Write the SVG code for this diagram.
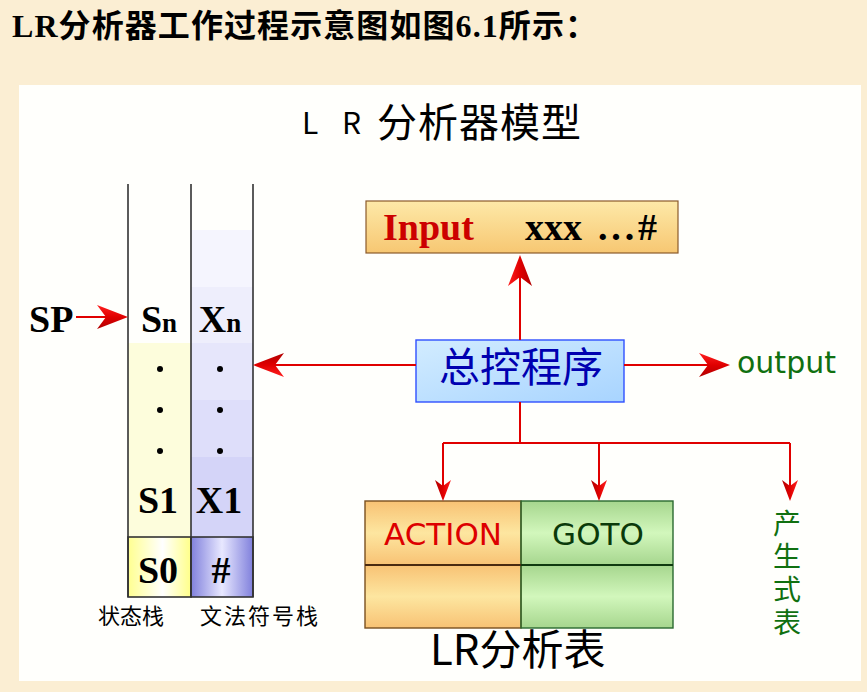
<svg xmlns="http://www.w3.org/2000/svg" width="867" height="692" viewBox="0 0 867 692">
<style>
.tb{font-family:"Liberation Serif","Noto Sans CJK SC",serif;font-weight:bold;fill:#000}
.cjk{font-family:"Noto Sans CJK SC","DejaVu Sans",sans-serif}
.sans{font-family:"DejaVu Sans","Noto Sans CJK SC",sans-serif}
.conn{stroke:#e00000;stroke-width:2;fill:none}
.stk{stroke:#333;stroke-width:1.6;fill:none}
</style>
<defs>
<marker id="ah" markerUnits="userSpaceOnUse" viewBox="-32 -13 34 26" markerWidth="34" markerHeight="26" refX="-10" refY="0" orient="auto">
<path d="M0,0 L-31,-12 L-22,0 L-31,12 Z" fill="url(#ahg)"/>
</marker>
<marker id="ahs" markerUnits="userSpaceOnUse" viewBox="-22 -9 24 18" markerWidth="24" markerHeight="18" refX="-6" refY="0" orient="auto">
<path d="M0,0 L-21,-8 L-15,0 L-21,8 Z" fill="url(#ahg)"/>
</marker>
<linearGradient id="ahg" x1="0" y1="0" x2="0" y2="1">
<stop offset="0" stop-color="#ff2020"/><stop offset="0.5" stop-color="#e00000"/><stop offset="1" stop-color="#b00000"/>
</linearGradient>
<linearGradient id="inG" x1="0" y1="0" x2="0" y2="1">
<stop offset="0" stop-color="#fde9a8"/><stop offset="1" stop-color="#f7c772"/>
</linearGradient>
<linearGradient id="ctlG" x1="0" y1="0" x2="1" y2="1">
<stop offset="0" stop-color="#d2ecff"/><stop offset="1" stop-color="#a8d4ff"/>
</linearGradient>
<linearGradient id="orG" x1="0" y1="0" x2="0" y2="1">
<stop offset="0" stop-color="#f8c274"/><stop offset="0.5" stop-color="#fde6a0"/><stop offset="1" stop-color="#f8c274"/>
</linearGradient>
<linearGradient id="grG" x1="0" y1="0" x2="0" y2="1">
<stop offset="0" stop-color="#a6d68e"/><stop offset="0.5" stop-color="#d2f7bc"/><stop offset="1" stop-color="#a6d68e"/>
</linearGradient>
<linearGradient id="s0G" x1="0" y1="0" x2="1" y2="0">
<stop offset="0" stop-color="#ffff90"/><stop offset="0.55" stop-color="#ffffff"/><stop offset="1" stop-color="#ffff88"/>
</linearGradient>
<linearGradient id="hashG" x1="0" y1="0" x2="1" y2="0">
<stop offset="0" stop-color="#8080dc"/><stop offset="0.5" stop-color="#e8e8ff"/><stop offset="1" stop-color="#8080dc"/>
</linearGradient>
</defs>

<rect x="0" y="0" width="867" height="692" fill="#fbeed3"/>
<text class="tb" x="12" y="37" font-size="32" textLength="585" lengthAdjust="spacing">LR分析器工作过程示意图如图6.1所示：</text>
<rect x="19" y="85" width="842" height="596" fill="#fffffc"/>

<text class="cjk" y="134" fill="#000"><tspan x="302" font-size="30">L</tspan><tspan x="342" font-size="30">R</tspan><tspan x="377 418 459 500 541" y="137" font-size="40">分析器模型</tspan></text>

<g id="state-stack">
<rect x="128" y="343" width="63" height="194" fill="#fdfddc"/>
<rect x="128" y="537" width="63" height="60" fill="url(#s0G)" stroke="#333" stroke-width="1.6"/>
<text class="tb" x="159" y="332" font-size="38" text-anchor="middle">S<tspan font-size="27">n</tspan></text>
<circle cx="160" cy="369" r="3"/><circle cx="160" cy="410" r="3"/><circle cx="160" cy="451" r="3"/>
<text class="tb" x="158" y="513" font-size="38" text-anchor="middle">S1</text>
<text class="tb" x="158" y="583" font-size="38" text-anchor="middle">S0</text>
<text class="cjk" x="98" y="624" font-size="22" fill="#000">状态栈</text>
</g>

<g id="symbol-stack">
<rect x="191" y="230" width="62" height="57" fill="#f5f5fe"/>
<rect x="191" y="287" width="62" height="56" fill="#eeeefc"/>
<rect x="191" y="343" width="62" height="57" fill="#e6e6fb"/>
<rect x="191" y="400" width="62" height="57" fill="#dedefa"/>
<rect x="191" y="457" width="62" height="80" fill="#d4d4f8"/>
<rect x="191" y="537" width="62" height="60" fill="url(#hashG)" stroke="#333" stroke-width="1.6"/>
<text class="tb" x="220" y="332" font-size="38" text-anchor="middle">X<tspan font-size="27">n</tspan></text>
<circle cx="220" cy="369" r="3"/><circle cx="220" cy="410" r="3"/><circle cx="220" cy="451" r="3"/>
<text class="tb" x="219" y="513" font-size="38" text-anchor="middle">X1</text>
<text class="tb" x="221" y="583" font-size="38" text-anchor="middle">#</text>
<text class="cjk" x="200" y="624" font-size="22" fill="#000" textLength="118">文法符号栈</text>
</g>

<g id="stack-walls">
<path class="stk" d="M128,184 V597 M191,184 V597 M253,184 V597"/>
</g>

<g id="sp">
<text class="tb" x="29" y="332" font-size="38">SP</text>
</g>

<g id="input">
<rect x="366" y="201" width="312" height="52" fill="url(#inG)" stroke="#8b5a2b" stroke-width="1.2"/>
<text class="tb" x="383" y="240" font-size="38" style="fill:#cc0000">Input</text>
<text class="tb" x="525" y="240" font-size="38">xxx</text>
<text class="tb" x="598" y="240" font-size="38" textLength="59">...#</text>
</g>

<g id="control">
<rect x="416" y="340" width="208" height="62" fill="url(#ctlG)" stroke="#3050ff" stroke-width="1.4"/>
<text class="cjk" x="521" y="382" font-size="41" text-anchor="middle" fill="#0000b0">总控程序</text>
</g>

<g id="output">
<text class="sans" x="737" y="373" font-size="30" fill="#107010">output</text>
</g>

<g id="lr-table">
<rect x="365" y="501" width="156" height="64" fill="url(#orG)"/>
<rect x="365" y="565" width="156" height="63" fill="url(#orG)"/>
<rect x="521" y="501" width="152" height="64" fill="url(#grG)"/>
<rect x="521" y="565" width="152" height="63" fill="url(#grG)"/>
<rect x="365" y="501" width="156" height="127" fill="none" stroke="#7a5020" stroke-width="1.4"/>
<rect x="521" y="501" width="152" height="127" fill="none" stroke="#2a6a30" stroke-width="1.4"/>
<path d="M365,565 H521" stroke="#4a2a10" stroke-width="2.2"/>
<path d="M521,565 H673" stroke="#103a10" stroke-width="2.2"/>
<text class="sans" x="443" y="545" font-size="31" text-anchor="middle" fill="#dd0000">ACTION</text>
<text class="sans" x="598" y="545" font-size="31" text-anchor="middle" fill="#0a3a0a">GOTO</text>
<text class="cjk" x="430" y="665" font-size="42" fill="#000">LR分析表</text>
</g>

<g id="productions">
<text class="cjk" x="787" y="509" font-size="28" writing-mode="vertical-rl" letter-spacing="5" fill="#107010">产生式表</text>
</g>

<g id="connectors">
<path class="conn" d="M76,317 H118" marker-end="url(#ah)"/>
<path class="conn" d="M520,340 V265" marker-end="url(#ah)"/>
<path class="conn" d="M416,365 H263" marker-end="url(#ah)"/>
<path class="conn" d="M624,365 H720" marker-end="url(#ah)"/>
<path class="conn" d="M520,402 V443 M443,443 H790"/>
<path class="conn" d="M443,443 V495" marker-end="url(#ahs)"/>
<path class="conn" d="M599,443 V495" marker-end="url(#ahs)"/>
<path class="conn" d="M790,443 V495" marker-end="url(#ahs)"/>
</g>
</svg>
